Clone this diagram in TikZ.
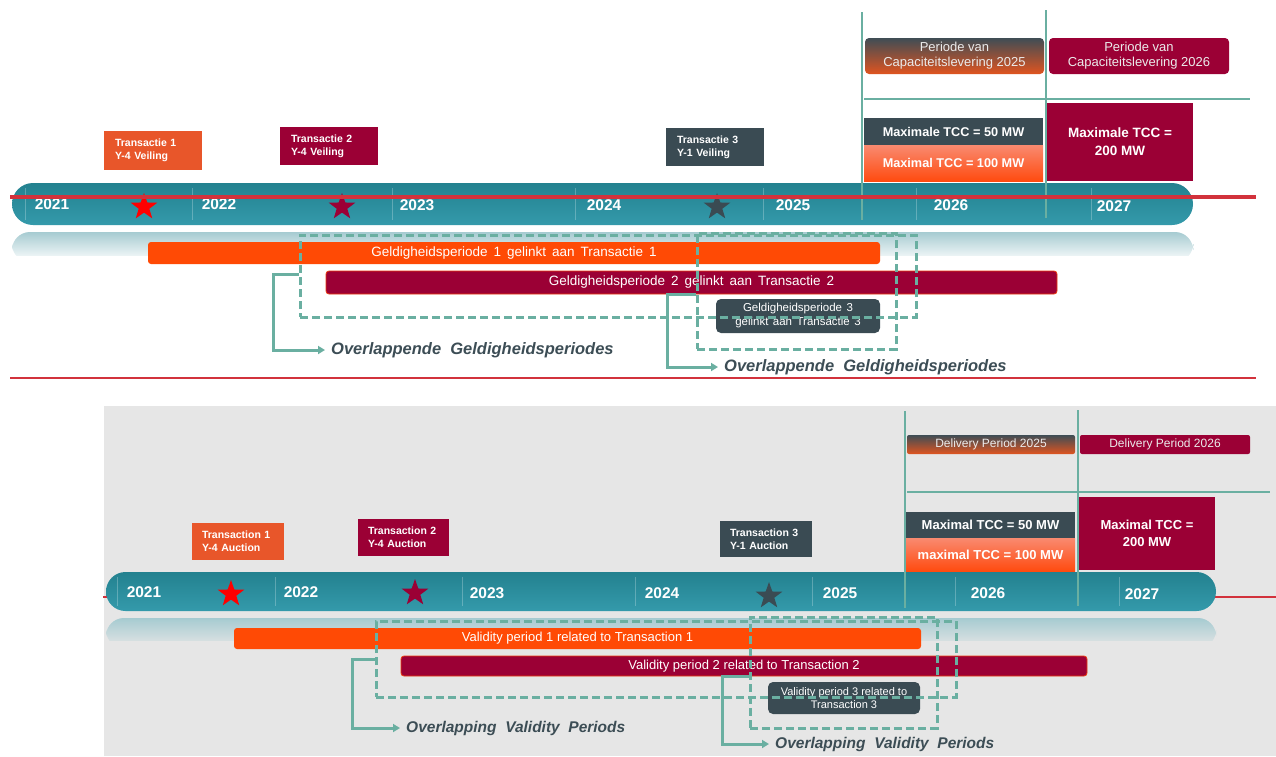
\documentclass[tikz,border=0pt]{standalone}
\usepackage{fontspec}
\setmainfont{Liberation Sans}
\usetikzlibrary{shapes.geometric,arrows.meta}
\newcommand\wspc[1]{\spaceskip=#1\fontdimen2\font\relax}
\definecolor{teal1}{HTML}{23818F}
\definecolor{teal2}{HTML}{349AAB}
\definecolor{refl}{HTML}{A6CBD1}
\definecolor{orng}{HTML}{E8562A}
\definecolor{orbar}{HTML}{FF4A05}
\definecolor{maroon}{HTML}{9B0035}
\definecolor{slate}{HTML}{3A4B53}
\definecolor{dteal}{HTML}{6AAFA1}
\definecolor{redl}{HTML}{D2323C}
\definecolor{txtslate}{HTML}{3C4D55}
\definecolor{bggrey}{HTML}{E6E6E6}
\definecolor{salmon}{HTML}{F98A70}
\definecolor{orgrad}{HTML}{FF4B10}
\definecolor{pvtop}{HTML}{3F4D55}
\definecolor{pvbot}{HTML}{E0541F}
\begin{document}
\begin{tikzpicture}[x=1pt,y=-1pt,
  tbox/.style={fill=#1, text=white, inner sep=0pt, align=left},
  fnttop/.style={font=\bfseries\fontsize{10.5pt}{13pt}\selectfont\wspc{2}},
  fntbot/.style={font=\bfseries\fontsize{10.5pt}{13pt}\selectfont},
  year/.style={text=white, inner sep=0pt, font=\bfseries\fontsize{15.5pt}{15.5pt}\selectfont},
  starn/.style={star, star points=5, star point ratio=2.5, minimum size=28pt, inner sep=0pt, fill=#1},
  perbox/.style={rounded corners=4pt, inner sep=0pt, align=center, text=white!92!black},
  tccbox/.style={fill=#1, text=white, inner sep=0pt, align=center},
  vpbar/.style={fill=#1, rounded corners=3pt, inner sep=0pt, text=white},
  dashbox/.style={draw=dteal, line width=3pt, dash pattern=on 8pt off 4pt, inner sep=0pt},
  tline/.style={draw=dteal, line width=2.5pt},
  elb/.style={draw=dteal, line width=3pt, -{Triangle[length=7pt,width=8pt]}},
  ovtxt/.style={text=txtslate, inner xsep=6pt, inner ysep=0pt, anchor=west, font=\bfseries\itshape\fontsize{16.5pt}{16.5pt}\selectfont\wspc{2}},
  sepl/.style={draw=white, opacity=0.25, line width=0.8pt}
]
\useasboundingbox (0,0) rectangle (1276,756);
\fill[white] (0,0) rectangle (1276,756);

%================ TOP (Dutch) =================
\shade[top color=teal1, bottom color=teal2, rounded corners=21pt] (12,183) rectangle (1193,225);
\shade[top color=refl, bottom color=white, rounded corners=18pt] (12,232) rectangle (1193,262);
\fill[white] (12,256) rectangle (1193,264);
\foreach \x in {25,192,392,575,763,916,1091} \draw[sepl] (\x,188) -- (\x,220);
\node[year] (ya21) at (52,204) {2021};
\node[year] (ya22) at (219,204) {2022};
\node[year] (ya23) at (417,205) {2023};
\node[year] (ya24) at (604,205) {2024};
\node[year] (ya25) at (793,205) {2025};
\node[year] (ya26) at (951,205) {2026};
\node[year] (ya27) at (1114,206) {2027};
\node[starn=red] (sa1) at (144,207) {};
\node[starn=maroon] (sa2) at (342,207) {};
\node[starn=slate] (sa3) at (717,207) {};

\node[tbox=orng, fnttop, minimum width=98pt, minimum height=39pt, text width=76pt] (ta1) at (153,150.5) {Transactie 1\\Y-4 Veiling};
\node[tbox=maroon, fnttop, minimum width=98pt, minimum height=38pt, text width=76pt] (ta2) at (329,146) {Transactie 2\\Y-4 Veiling};
\node[tbox=slate, fnttop, minimum width=98pt, minimum height=38pt, text width=76pt] (ta3) at (715,147) {Transactie 3\\Y-1 Veiling};

\node[perbox, top color=pvtop, bottom color=pvbot, minimum width=179pt, minimum height=36pt, font=\fontsize{13pt}{15pt}\selectfont] (pa1) at (954.5,56) {Periode van\\Capaciteitslevering 2025};
\node[perbox, fill=maroon, minimum width=180pt, minimum height=36pt, font=\fontsize{13pt}{15pt}\selectfont] (pa2) at (1139,56) {Periode van\\Capaciteitslevering 2026};

\node[tccbox=slate, minimum width=179pt, minimum height=27pt, font=\bfseries\fontsize{12.7pt}{15pt}\selectfont] (ca1) at (953.5,131.5) {Maximale TCC = 50 MW};
\node[tccbox=orgrad, top color=salmon, bottom color=orgrad, minimum width=179pt, minimum height=36pt, font=\bfseries\fontsize{12.7pt}{15pt}\selectfont] (ca2) at (953.5,163) {Maximal TCC = 100 MW};
\node[tccbox=maroon, minimum width=146pt, minimum height=78pt, font=\bfseries\fontsize{13.5pt}{18pt}\selectfont] (ca3) at (1120,142) {Maximale TCC =\\200 MW};

\draw[tline] (862,12) -- (862,220);
\draw[tline] (1046,10) -- (1046,218);
\draw[tline] (864,99) -- (1250,99);

\draw[redl, line width=4.5pt] (10,197) -- (1256,197);

\node[vpbar=orbar, minimum width=732pt, minimum height=22pt, font=\fontsize{13.5pt}{15pt}\selectfont\wspc{1.6}] (va1) at (514,253) {Geldigheidsperiode 1 gelinkt aan Transactie 1};
\node[vpbar=maroon, draw=orbar!80!maroon, line width=0.8pt, minimum width=731pt, minimum height=23pt, font=\fontsize{13.5pt}{15pt}\selectfont\wspc{1.6}] (va2) at (691.5,282.5) {Geldigheidsperiode 2 gelinkt aan Transactie 2};
\node[vpbar=slate, rounded corners=5pt, align=center, minimum width=164pt, minimum height=34pt, font=\fontsize{11.5pt}{14pt}\selectfont\wspc{1.4}] (va3) at (798,316) {Geldigheidsperiode 3\\gelinkt aan Transactie 3};

\node[dashbox, minimum width=616pt, minimum height=82pt] (oa1) at (608,276) {};
\node[dashbox, minimum width=199pt, minimum height=116pt] (oa2) at (796.5,291) {};

\node[ovtxt] (ota1) at (325,350) {Overlappende Geldigheidsperiodes};
\node[ovtxt] (ota2) at (718,367) {Overlappende Geldigheidsperiodes};
\coordinate (ea1) at (273,274);
\coordinate (ea2) at (667,294);
\draw[elb] (oa1.west |- ea1) -- (ea1) |- (ota1.west);
\draw[elb] (oa2.west |- ea2) -- (ea2) |- (ota2.west);

\draw[redl, line width=2.5pt] (10,378) -- (1256,378);

%================ BOTTOM (English) =================
\fill[bggrey] (104,406) rectangle (1276,756);
\draw[redl, line width=2pt] (103,597) -- (1276,597);
\shade[top color=teal1, bottom color=teal2, rounded corners=19.5pt] (106,572) rectangle (1216,611);
\shade[top color=refl, bottom color=bggrey, rounded corners=18pt] (106,618) rectangle (1216,648);
\fill[bggrey] (106,641) rectangle (1216,650);
\foreach \x in {117,275,462,635,812,955,1119} \draw[sepl] (\x,577) -- (\x,606);
\node[year] (yb21) at (144,592) {2021};
\node[year] (yb22) at (301,592) {2022};
\node[year] (yb23) at (487,593) {2023};
\node[year] (yb24) at (662,593) {2024};
\node[year] (yb25) at (840,593) {2025};
\node[year] (yb26) at (988,593) {2026};
\node[year] (yb27) at (1142,594) {2027};
\node[starn=red] (sb1) at (231,594) {};
\node[starn=maroon] (sb2) at (415,593) {};
\node[starn=slate] (sb3) at (769,596) {};

\node[tbox=orng, fntbot, minimum width=92pt, minimum height=37pt, text width=72pt] (tb1) at (238,541.5) {Transaction 1\\Y-4 Auction};
\node[tbox=maroon, fntbot, minimum width=91pt, minimum height=37pt, text width=71pt] (tb2) at (403.5,537.5) {Transaction 2\\Y-4 Auction};
\node[tbox=slate, fntbot, minimum width=92pt, minimum height=36pt, text width=72pt] (tb3) at (766,539) {Transaction 3\\Y-1 Auction};

\node[perbox, rounded corners=2pt, top color=pvtop, bottom color=pvbot, minimum width=168pt, minimum height=19pt, font=\fontsize{12pt}{13pt}\selectfont] (pb1) at (991,444.5) {Delivery Period 2025};
\node[perbox, rounded corners=2pt, fill=maroon, minimum width=170pt, minimum height=19pt, font=\fontsize{12pt}{13pt}\selectfont] (pb2) at (1165,444.5) {Delivery Period 2026};

\node[tccbox=slate, minimum width=169pt, minimum height=26pt, font=\bfseries\fontsize{13pt}{15pt}\selectfont] (cb1) at (990.5,525) {Maximal TCC = 50 MW};
\node[tccbox=orgrad, top color=salmon, bottom color=orgrad, minimum width=169pt, minimum height=33pt, font=\bfseries\fontsize{13pt}{15pt}\selectfont] (cb2) at (990.5,554.5) {maximal TCC = 100 MW};
\node[tccbox=maroon, minimum width=136pt, minimum height=73pt, font=\bfseries\fontsize{13pt}{17pt}\selectfont] (cb3) at (1147,533.5) {Maximal TCC =\\200 MW};

\draw[tline] (905,411) -- (905,608);
\draw[tline] (1078,410) -- (1078,606);
\draw[tline] (907,492) -- (1270,492);

\node[vpbar=orbar, minimum width=687pt, minimum height=21pt, font=\fontsize{13pt}{15pt}\selectfont] (vb1) at (577.5,638.5) {Validity period 1 related to Transaction 1};
\node[vpbar=maroon, draw=orbar!80!maroon, line width=0.8pt, minimum width=686pt, minimum height=20pt, font=\fontsize{13pt}{15pt}\selectfont] (vb2) at (744,666) {Validity period 2 related to Transaction 2};
\node[vpbar=slate, rounded corners=5pt, align=center, minimum width=152pt, minimum height=32pt, font=\fontsize{11pt}{12.5pt}\selectfont] (vb3) at (844,698) {Validity period 3 related to\\Transaction 3};

\node[dashbox, minimum width=580pt, minimum height=76pt] (ob1) at (666,659) {};
\node[dashbox, minimum width=187pt, minimum height=111pt] (ob2) at (843.5,672.5) {};

\node[ovtxt, font=\bfseries\itshape\fontsize{15.5pt}{15.5pt}\selectfont\wspc{2}] (otb1) at (400,728) {Overlapping Validity Periods};
\node[ovtxt, font=\bfseries\itshape\fontsize{15.5pt}{15.5pt}\selectfont\wspc{2}] (otb2) at (769,744) {Overlapping Validity Periods};
\coordinate (eb1) at (352,659);
\coordinate (eb2) at (722,676);
\draw[elb] (ob1.west |- eb1) -- (eb1) |- (otb1.west);
\draw[elb] (ob2.west |- eb2) -- (eb2) |- (otb2.west);
\end{tikzpicture}
\end{document}
